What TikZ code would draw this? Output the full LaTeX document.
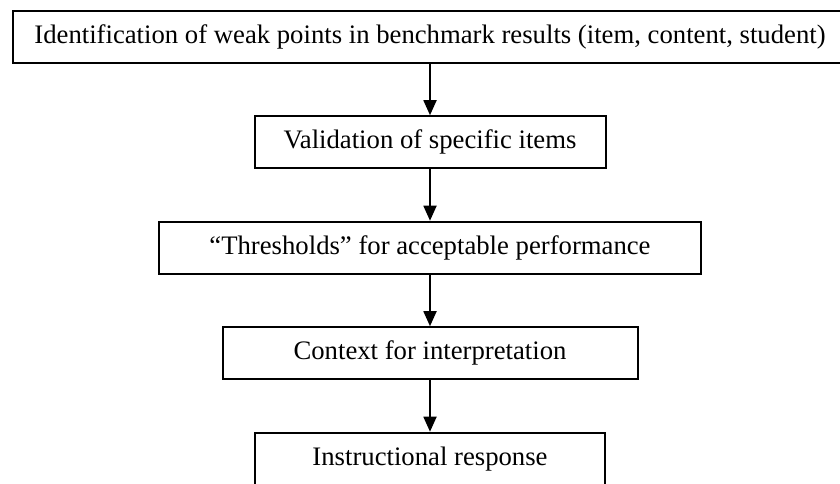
\documentclass[tikz,border=0pt]{standalone}
\usepackage{fontspec}
\setmainfont{Liberation Serif}
\usepackage{tikz}
\usetikzlibrary{arrows.meta}

\begin{document}
\begin{tikzpicture}[node distance=52.75pt, >={Triangle[length=7.5pt,width=6.5pt]},
  every node/.style={draw, align=center, line width=1pt, minimum height=26pt, inner sep=0pt, font=\fontsize{13.35}{15}\selectfont}]
\useasboundingbox (0,0) rectangle (420pt,-241.5pt);
\node (weak) [minimum width=417.5pt] at (215pt,-18.35pt) {Identification of weak points in benchmark results (item, content, student)};
\node (valid) [below of=weak, minimum width=175.5pt] {Validation of specific items};
\node (thresh) [below of=valid, minimum width=270.8pt] {``Thresholds'' for acceptable performance};
\node (context) [below of=thresh, minimum width=207.5pt] {Context for interpretation};
\node (response) [below of=context, minimum width=175pt] {Instructional response};

\draw[->, line width=0.9pt] (weak) -- (valid);
\draw[->, line width=0.9pt] (valid) -- (thresh);
\draw[->, line width=0.9pt] (thresh) -- (context);
\draw[->, line width=0.9pt] (context) -- (response);
\end{tikzpicture}
\end{document}
